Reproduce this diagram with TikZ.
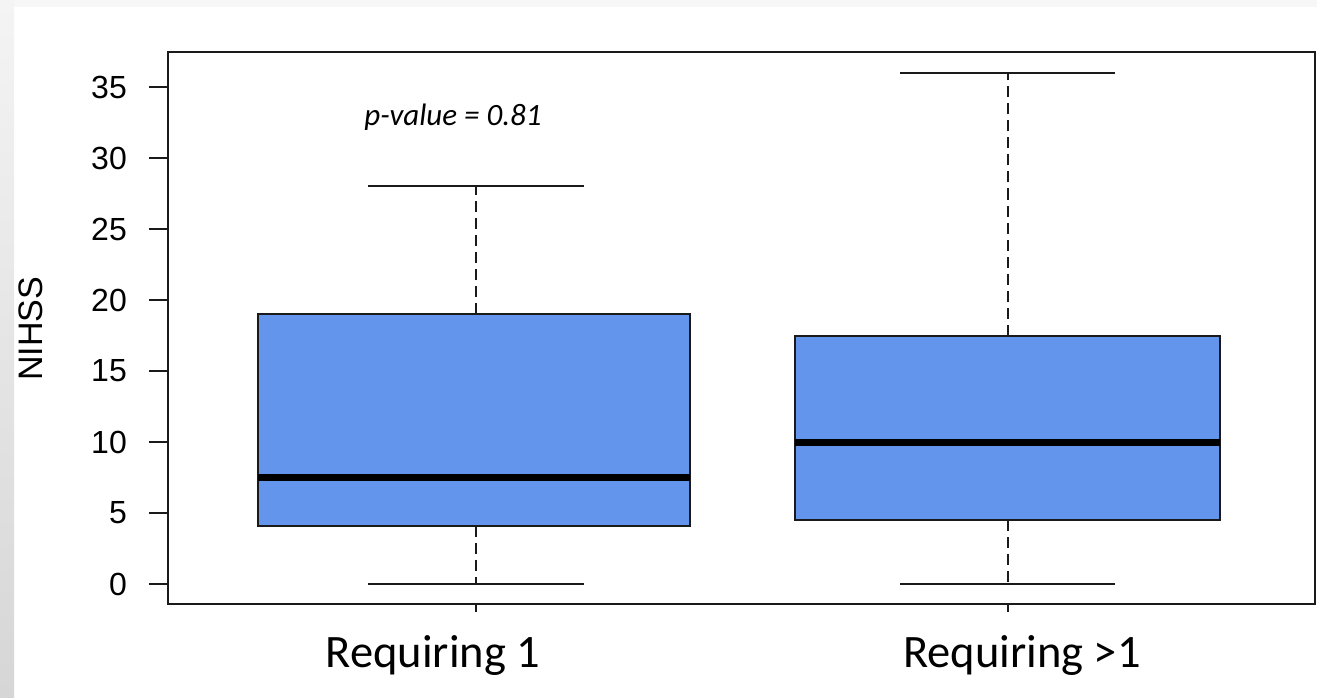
\documentclass[tikz,border=0pt]{standalone}
\usepackage{fontspec}
\setmainfont{Liberation Sans}
\newfontfamily\calfont{Carlito}
\definecolor{boxblue}{HTML}{6495ED}
\definecolor{stripgrey}{HTML}{F7F7F7}
\definecolor{stripA}{HTML}{F4F4F4}
\definecolor{stripB}{HTML}{D6D6D6}
\definecolor{inkc}{HTML}{1A1A1A}
\begin{document}
\begin{tikzpicture}[x=1bp,y=-1bp,
  frame/.style={draw=inkc,line width=2bp},
  boxstyle/.style={draw=inkc,fill=boxblue,line width=2bp},
  medianline/.style={draw=black,line width=7bp},
  whisk/.style={draw=inkc,line width=2bp,dash pattern=on 11bp off 6bp},
  capline/.style={draw=inkc,line width=2bp},
  ticklab/.style={anchor=east,inner sep=0pt,font=\fontsize{32bp}{36bp}\selectfont},
  catlab/.style={anchor=base,inner sep=0pt,font=\calfont\fontsize{46.5bp}{52bp}\selectfont},
  ]
\useasboundingbox (0,0) rectangle (1317,697);
\fill[white] (0,0) rectangle (1317,697);
\fill[stripgrey] (0,0) rectangle (1317,7);
\shade[top color=stripA,bottom color=stripB] (0,0) rectangle (14,697);

% boxes
\draw[boxstyle] (258,314.2) rectangle (690,525.8);
\draw[medianline] (258,477.5) -- (690,477.5);
\draw[whisk] (476,314.2) -- (476,186.4);
\draw[whisk] (476,525.8) -- (476,584);
\draw[capline] (368,186.4) -- (584,186.4);
\draw[capline] (368,584) -- (584,584);

\draw[boxstyle] (795,335.5) rectangle (1220,520.1);
\draw[medianline] (795,442) -- (1220,442);
\draw[whisk] (1008,335.5) -- (1008,72.8);
\draw[whisk] (1008,520.1) -- (1008,584);
\draw[capline] (900,72.8) -- (1115,72.8);
\draw[capline] (900,584) -- (1115,584);

% frame
\draw[frame] (168,52) rectangle (1315,604);

% y ticks
\foreach \v in {0,5,...,35}{
  \draw[capline] (149,584-\v*14.2) -- (168,584-\v*14.2);
  \node[ticklab] (yl\v) at (127,584-\v*14.2) {\v};
}
% x ticks
\draw[capline] (476,604) -- (476,612);
\draw[capline] (1008,604) -- (1008,612);

\node[inner sep=0pt,rotate=90,font=\fontsize{34bp}{38bp}\selectfont] (ylab) at (31,329) {NIHSS};
\node[catlab] (c1) at (433,667) {Requiring 1};
\node[catlab] (c2) at (1022,667) {Requiring >1};
\node[anchor=base,inner sep=0pt,font=\calfont\itshape\fontsize{31bp}{35bp}\selectfont] (pv) at (453,126) {p-value = 0.81};
\end{tikzpicture}
\end{document}
